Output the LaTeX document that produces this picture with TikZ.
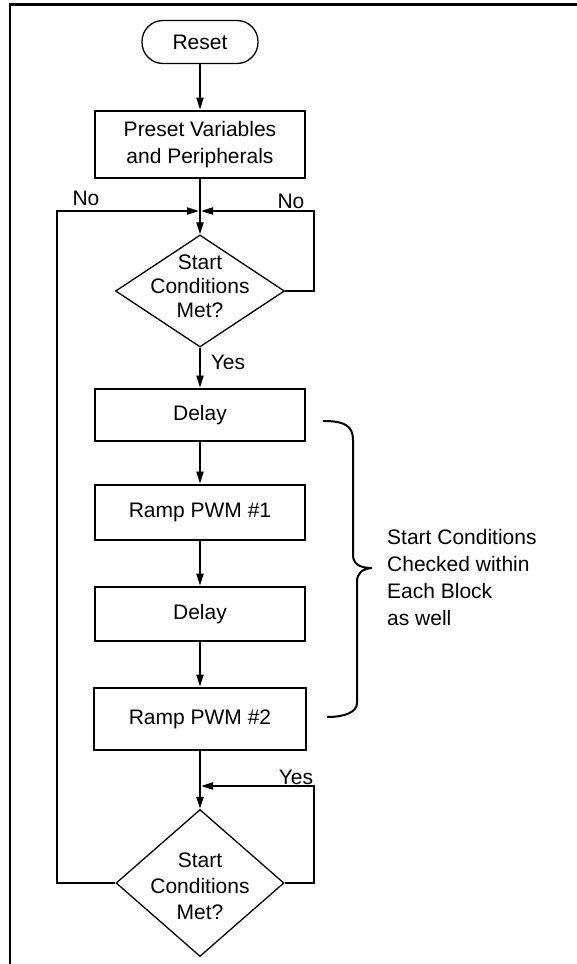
\documentclass[tikz,border=0pt]{standalone}
\usepackage{fontspec}
\setmainfont{Liberation Sans}
\usetikzlibrary{arrows.meta,shapes.geometric}
\begin{document}
\begin{tikzpicture}[x=1pt,y=-1pt,
  every node/.style={font=\fontsize{21}{27}\selectfont},
  term/.style={draw,line width=1.3pt,rounded corners=21pt,minimum width=116pt,minimum height=43pt,inner sep=0pt},
  procbox/.style={draw,line width=2.6pt,minimum width=210pt,inner sep=0pt,align=center},
  decision/.style={draw,diamond,line width=1.3pt,inner sep=0pt},
  arr/.style={line width=2pt,-{Triangle[length=12pt,width=7pt]}},
  wire/.style={line width=2pt},
  lbl/.style={inner sep=0pt},
  frame/.style={line width=2.7pt},
  brace/.style={line width=2pt}]
\useasboundingbox (0,0) rectangle (577,964);
% frame
\draw[frame] (10,966) -- (10,4.5) -- (580,4.5);
% nodes
\node[term] (reset) at (200,42) {Reset};
\node[procbox,minimum height=67pt] (preset) at (200,144.5) {Preset Variables\\and Peripherals};
\node[decision,minimum width=169pt,minimum height=112pt,
      label={[lbl,align=center,font=\fontsize{21}{24}\selectfont,yshift=5pt]center:{Start\\Conditions\\Met?}}] (d1) at (200,291) {};
\node[procbox,minimum height=52pt] (delay1) at (200,415) {Delay};
\node[procbox,minimum height=55pt] (ramp1) at (200,512.5) {Ramp PWM \#1};
\node[procbox,minimum height=54pt] (delay2) at (200,614) {Delay};
\node[procbox,minimum width=212pt,minimum height=62pt] (ramp2) at (200,719) {Ramp PWM \#2};
\node[decision,minimum width=168pt,minimum height=147pt,
      label={[lbl,align=center,font=\fontsize{21}{26}\selectfont,yshift=-3.5pt]center:{Start\\Conditions\\Met?}}] (d2) at (200,883) {};
\coordinate (j1) at (200,211);
\coordinate (j2) at (200,786);
% connectors
\draw[arr] (reset) -- (preset);
\draw[arr] (preset) -- (d1);
\draw[arr,shorten >=1pt] (d1.east) -- ++(29,0) |- (j1);
\draw[arr,shorten >=1pt] (d2.west) -- ++(-58,0) |- (j1);
\draw[arr] (d1) -- (delay1);
\draw[arr] (delay1) -- (ramp1);
\draw[arr] (ramp1) -- (delay2);
\draw[arr] (delay2) -- (ramp2);
\draw[arr] (ramp2) -- (d2);
\draw[arr,shorten >=1pt] (d2.east) -- ++(29,0) |- (j2);
% labels
\node[lbl] (no1) at (86,198) {No};
\node[lbl] (no2) at (291,201) {No};
\node[lbl] (yes1) at (228,362) {Yes};
\node[lbl] (yes2) at (296,777) {Yes};
% brace
\draw[brace] (323,421) .. controls (345,421) and (353,426) .. (353,440) -- (353,555)
  .. controls (353,564) and (360,568) .. (372,568)
  .. controls (362,569) and (357,573) .. (357,582) -- (357,703)
  .. controls (357,712) and (345,717) .. (327,717);
\node[lbl,anchor=west,align=left] (note) at (387,577) {Start Conditions\\Checked within\\Each Block\\as well};
\end{tikzpicture}
\end{document}
